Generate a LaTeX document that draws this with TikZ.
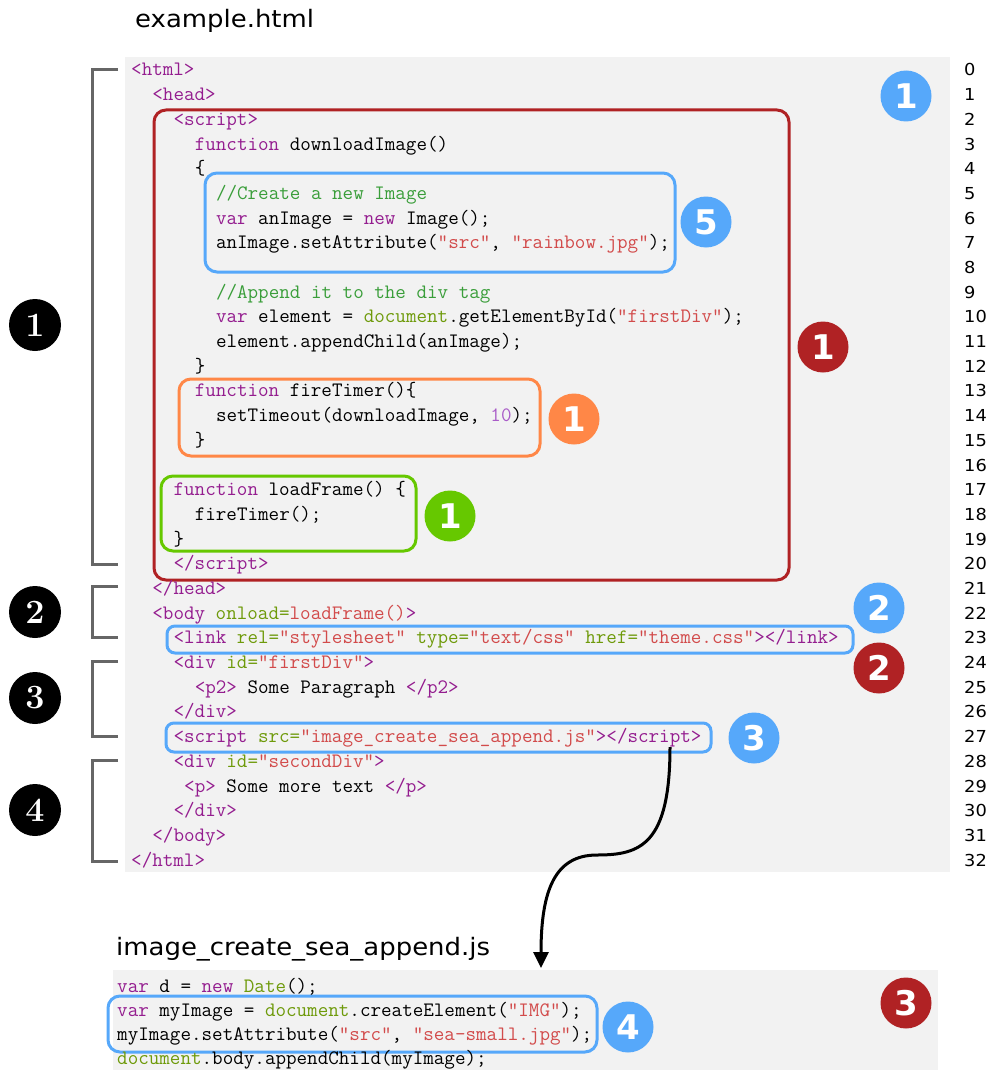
\documentclass[tikz,border=0pt]{standalone}
\usepackage{fontspec}
\usetikzlibrary{arrows.meta}
\newfontfamily\labfont[FakeStretch=1.08]{DejaVu Sans}
\newfontfamily\badgefont{DejaVu Sans}

\definecolor{codebg}{HTML}{F2F2F2}
\definecolor{tagc}{HTML}{941D8F}
\definecolor{attc}{HTML}{6E9A0A}
\definecolor{strc}{HTML}{D24B4B}
\definecolor{cmtc}{HTML}{3A9E3A}
\definecolor{numc}{HTML}{A95CC8}
\definecolor{bluec}{HTML}{56A8FA}
\definecolor{redc}{HTML}{B02224}
\definecolor{orangec}{HTML}{FF8747}
\definecolor{greenc}{HTML}{66C800}
\definecolor{brk}{HTML}{666666}

% syntax colouring helpers
\newcommand\ctag[1]{\textcolor{tagc}{#1}}
\newcommand\cattr[1]{\textcolor{attc}{#1}}
\newcommand\cstr[1]{\textcolor{strc}{#1}}
\newcommand\ccom[1]{\textcolor{cmtc}{#1}}
\newcommand\cnum[1]{\textcolor{numc}{#1}}
% one source line: number, indent (in characters), text
\newcommand\srcline[3]{\node[code] (L#1) at ({131+10.6*#2},{76+24.69*#1}) {#3};}

\begin{document}
\begin{tikzpicture}[x=1pt,y=-1pt,
  code/.style={anchor=base west, inner sep=0pt, font=\ttfamily\fontsize{20.5}{24}\selectfont},
  lnum/.style={anchor=base west, inner sep=0pt, font=\labfont\fontsize{16.5}{20}\selectfont},
  title/.style={anchor=base west, inner sep=0pt, font=\labfont\fontsize{24}{28}\selectfont},
  badge/.style={circle, minimum size=51pt, inner sep=0pt, text=white,
    font=\badgefont\bfseries\fontsize{34}{34}\selectfont},
  blackbadge/.style={circle, fill=black, minimum size=52pt, inner sep=0pt, text=white,
    font=\rmfamily\bfseries\fontsize{34}{34}\selectfont},
  hl/.style={rounded corners=12pt, line width=3pt},
  brace/.style={draw=brk, line width=3pt},
]
\useasboundingbox (0,0) rectangle (989,1070);

% code panels
\fill[codebg] (125,57) rectangle (950,872);
\fill[codebg] (113,970) rectangle (938,1075);

% titles
\node[title] (t1) at (135,28) {example.html};
\node[title] (t2) at (116,955) {image\_create\_sea\_append.js};

% highlight frames
\draw[hl, draw=redc] (154,110) rectangle (789,580);
\draw[hl, draw=bluec] (205,173) rectangle (675,272);
\draw[hl, draw=orangec] (179,379) rectangle (540,456);
\draw[hl, draw=greenc] (161,476) rectangle (416,551);
\draw[hl, draw=bluec, rounded corners=8pt] (167,626) rectangle (853,653);
\draw[hl, draw=bluec, rounded corners=8pt] (166,723) rectangle (711,752);
\draw[hl, draw=bluec] (108,996) rectangle (597,1052);

% section brackets
\draw[brace] (118,70) -- (92,70) -- (92,564) -- (118,564);
\draw[brace] (118,586) -- (92,586) -- (92,637) -- (118,637);
\draw[brace] (118,661) -- (92,661) -- (92,736) -- (118,736);
\draw[brace] (118,760) -- (92,760) -- (92,861) -- (118,861);

% example.html source
\srcline{0}{0}{\ctag{<html>}}
\srcline{1}{2}{\ctag{<head>}}
\srcline{2}{4}{\ctag{<script>}}
\srcline{3}{6}{\ctag{function} downloadImage()}
\srcline{4}{6}{\{}
\srcline{5}{8}{\ccom{//Create a new Image}}
\srcline{6}{8}{\ctag{var} anImage = \ctag{new} Image();}
\srcline{7}{8}{anImage.setAttribute(\cstr{"src"}, \cstr{"rainbow.jpg"});}
\srcline{9}{8}{\ccom{//Append it to the div tag}}
\srcline{10}{8}{\ctag{var} element = \cattr{document}.getElementById(\cstr{"firstDiv"});}
\srcline{11}{8}{element.appendChild(anImage);}
\srcline{12}{6}{\}}
\srcline{13}{6}{\ctag{function} fireTimer()\{}
\srcline{14}{8}{setTimeout(downloadImage, \cnum{10});}
\srcline{15}{6}{\}}
\srcline{17}{4}{\ctag{function} loadFrame() \{}
\srcline{18}{6}{fireTimer();}
\srcline{19}{4}{\}}
\srcline{20}{4}{\ctag{</script>}}
\srcline{21}{2}{\ctag{</head>}}
\srcline{22}{2}{\ctag{<body} \cattr{onload=}\cstr{loadFrame()}\ctag{>}}
\srcline{23}{4}{\ctag{<link} \cattr{rel=}\cstr{"stylesheet"} \cattr{type=}\cstr{"text/css"} \cattr{href=}\cstr{"theme.css"}\ctag{></link>}}
\srcline{24}{4}{\ctag{<div} \cattr{id=}\cstr{"firstDiv"}\ctag{>}}
\srcline{25}{6}{\ctag{<p2>} Some Paragraph \ctag{</p2>}}
\srcline{26}{4}{\ctag{</div>}}
\srcline{27}{4}{\ctag{<script} \cattr{src=}\cstr{"image\_create\_sea\_append.js"}\ctag{></script>}}
\srcline{28}{4}{\ctag{<div} \cattr{id=}\cstr{"secondDiv"}\ctag{>}}
\srcline{29}{5}{\ctag{<p>} Some more text \ctag{</p>}}
\srcline{30}{4}{\ctag{</div>}}
\srcline{31}{2}{\ctag{</body>}}
\srcline{32}{0}{\ctag{</html>}}

% line numbers
\foreach \i in {0,...,32}
  \node[lnum] (n\i) at (964,{76+24.69*\i}) {\i};

% image_create_sea_append.js source
\node[code] (j1) at (117,992) {\ctag{var} d = \ctag{new} \cattr{Date}();};
\node[code] (j2) at (117,1016) {\ctag{var} myImage = \cattr{document}.createElement(\cstr{"IMG"});};
\node[code] (j3) at (117,1040) {myImage.setAttribute(\cstr{"src"}, \cstr{"sea-small.jpg"});};
\node[code] (j4) at (117,1064) {\cattr{document}.body.appendChild(myImage);};

% numbered badges
\node[badge, fill=bluec] (b1) at (906,96) {1};
\node[badge, fill=bluec] (b5) at (706,222) {5};
\node[badge, fill=redc] (r1) at (823,347) {1};
\node[badge, fill=orangec] (o1) at (574,419) {1};
\node[badge, fill=greenc] (g1) at (450,516) {1};
\node[badge, fill=bluec] (b2) at (879,608) {2};
\node[badge, fill=redc] (r2) at (879,668) {2};
\node[badge, fill=bluec] (b3) at (754,738) {3};
\node[badge, fill=bluec] (b4) at (628,1027) {4};
\node[badge, fill=redc] (r3) at (906,1003) {3};

\node[blackbadge] (k1) at (35,325) {1};
\node[blackbadge] (k2) at (35,612) {2};
\node[blackbadge] (k3) at (35,698) {3};
\node[blackbadge] (k4) at (35,810) {4};

% script include arrow
\coordinate (arrS) at (670,747);
\coordinate (arrE) at (541,968);
\draw[line width=3pt, -{Triangle[length=16pt,width=15pt]}]
  (arrS) .. controls (670,845) and (640,855) .. (597,855)
         .. controls (555,855) and (541,890) .. (arrE);
\end{tikzpicture}
\end{document}
